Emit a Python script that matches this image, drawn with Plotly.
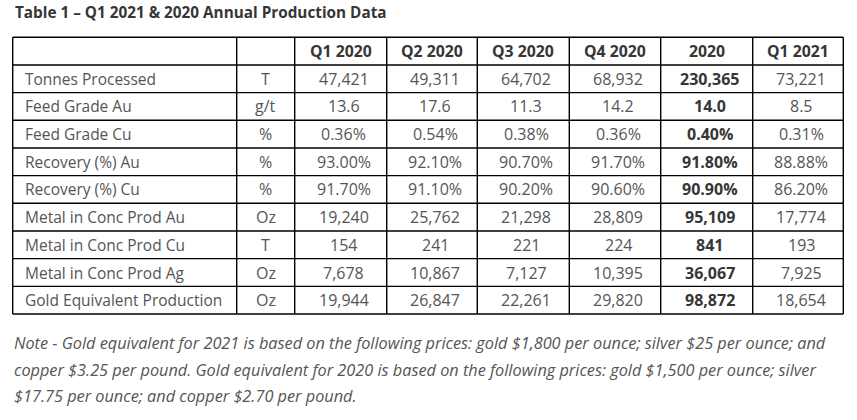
import plotly.graph_objects as go

title = "Table 1 – Q1 2021 & 2020 Annual Production Data"
periods = ["Q1 2020", "Q2 2020", "Q3 2020", "Q4 2020", "2020", "Q1 2021"]
metrics = [
    "Tonnes Processed", "Feed Grade Au", "Feed Grade Cu", "Recovery (%) Au",
    "Recovery (%) Cu", "Metal in Conc Prod Au", "Metal in Conc Prod Cu",
    "Metal in Conc Prod Ag", "Gold Equivalent Production",
]
units = ["T", "g/t", "%", "%", "%", "Oz", "T", "Oz", "Oz"]
q1_2020 = ["47,421", "13.6", "0.36%", "93.00%", "91.70%", "19,240", "154", "7,678", "19,944"]
q2_2020 = ["49,311", "17.6", "0.54%", "92.10%", "91.10%", "25,762", "241", "10,867", "26,847"]
q3_2020 = ["64,702", "11.3", "0.38%", "90.70%", "90.20%", "21,298", "221", "7,127", "22,261"]
q4_2020 = ["68,932", "14.2", "0.36%", "91.70%", "90.60%", "28,809", "224", "10,395", "29,820"]
fy_2020 = ["230,365", "14.0", "0.40%", "91.80%", "90.90%", "95,109", "841", "36,067", "98,872"]
q1_2021 = ["73,221", "8.5", "0.31%", "88.88%", "86.20%", "17,774", "193", "7,925", "18,654"]
notes = [
    "Note - Gold equivalent for 2021 is based on the following prices: gold $1,800 per ounce; silver $25 per ounce; and",
    "copper $3.25 per pound. Gold equivalent for 2020 is based on the following prices: gold $1,500 per ounce; silver",
    "$17.75 per ounce; and copper $2.70 per pound.",
]

W, H = 857, 420
FONT = "Open Sans, Noto Sans, sans-serif"
TXT = "#555555"
DARK = "#363636"

# grid geometry (px); x axis is in pixels, y axis in row units
col_widths = [224, 58, 92, 90.6, 92, 91.4, 92, 90.6]
left = 12.7
top = 37.3
row_h = 27.67

edges = [left]
for w in col_widths:
    edges.append(edges[-1] + w)

columns = [metrics, units, q1_2020, q2_2020, q3_2020, q4_2020, fy_2020, q1_2021]
headers = ["", ""] + periods
n_rows = len(metrics) + 1
bold_col = 6

fig = go.Figure()

# grid lines
for r in range(n_rows + 1):
    fig.add_shape(type="line", xref="x", yref="y", x0=edges[0], x1=edges[-1],
                  y0=r, y1=r, line=dict(color="black", width=1.4))
for e in edges:
    fig.add_shape(type="line", xref="x", yref="y", x0=e, x1=e,
                  y0=0, y1=n_rows, line=dict(color="black", width=1.4))

# header
for c, h in enumerate(headers):
    if h:
        fig.add_annotation(x=(edges[c] + edges[c + 1]) / 2, y=0.5, text="<b>%s</b>" % h,
                           xref="x", yref="y", showarrow=False, xanchor="center",
                           yanchor="middle", font=dict(family=FONT, size=15.8, color=DARK))

# body
for c, col in enumerate(columns):
    for r, v in enumerate(col):
        if c == 0:
            x, anchor, size = edges[c] + 10, "left", 15.5
        else:
            x, anchor, size = (edges[c] + edges[c + 1]) / 2 + (0 if c == 1 else 3), "center", 16
        bold = c == bold_col
        fig.add_annotation(x=x, y=r + 1.5, text=("<b>%s</b>" % v) if bold else v,
                           xref="x", yref="y", showarrow=False, xanchor=anchor,
                           yanchor="middle",
                           font=dict(family=FONT, size=size, color=DARK if bold else TXT))

fig.add_annotation(
    text="<b>%s</b>" % title, x=13 / W, y=1 - 11.5 / H,
    xref="paper", yref="paper", xanchor="left", yanchor="middle",
    showarrow=False, font=dict(family=FONT, size=15.3, color=DARK),
)
for i, line in enumerate(notes):
    fig.add_annotation(
        text="<i>%s</i>" % line, x=12 / W, y=1 - (343 + i * 26.7) / H,
        xref="paper", yref="paper", xanchor="left", yanchor="middle",
        showarrow=False, font=dict(family=FONT, size=16.3, color=TXT),
    )

fig.update_layout(
    width=W, height=H, margin=dict(l=0, r=0, t=0, b=0),
    paper_bgcolor="white", plot_bgcolor="white", showlegend=False,
    xaxis=dict(range=[0, W], visible=False, fixedrange=True),
    yaxis=dict(range=[(H - top) / row_h, -top / row_h], visible=False, fixedrange=True),
)
# drop the default 8px body margin so the figure sits at the page corner
fig.write_html("out.html", config={"displayModeBar": False},
               post_script="document.body.style.margin='0';")
